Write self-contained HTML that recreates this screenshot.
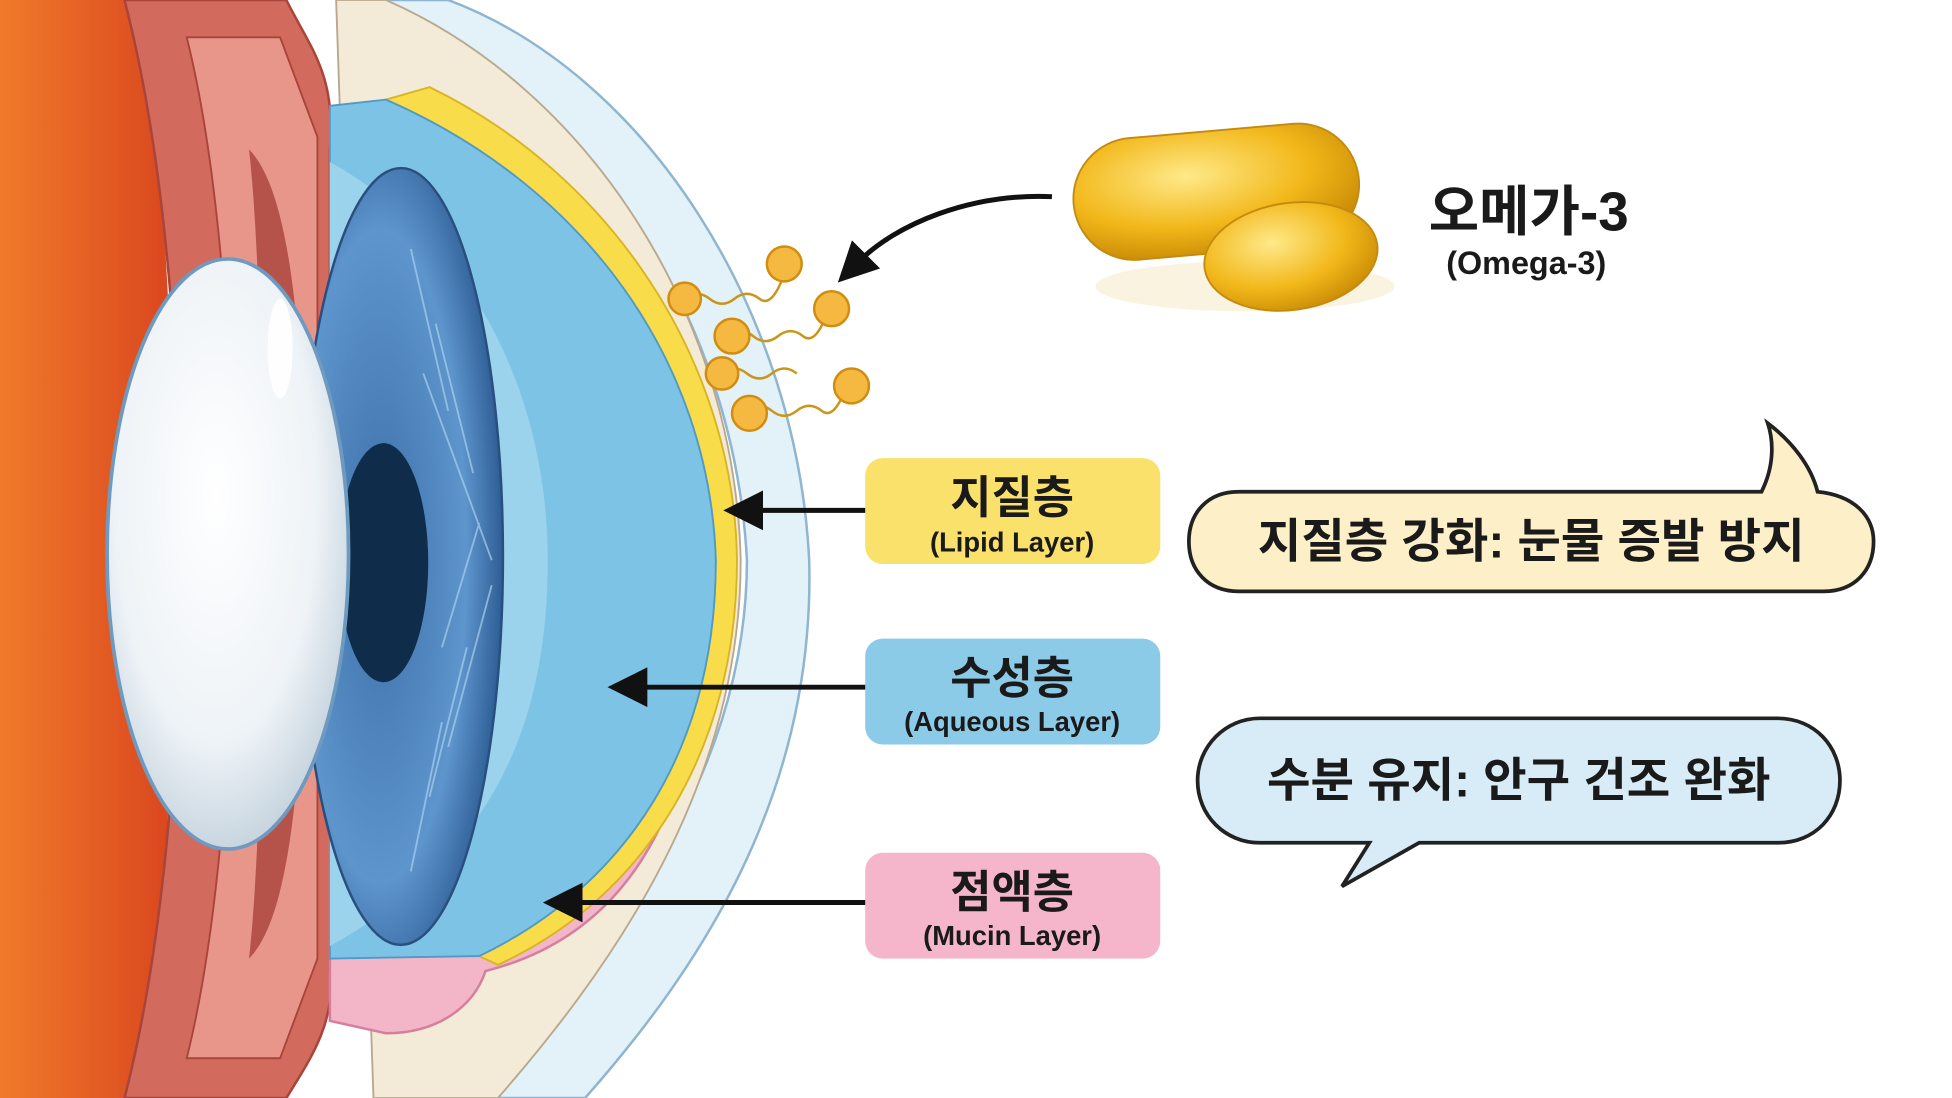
<!DOCTYPE html>
<html><head><meta charset="utf-8"><style>
html,body{margin:0;padding:0;background:#fff;width:1952px;height:1098px;overflow:hidden}
svg{display:block}
text{font-family:"Liberation Sans","Noto Sans CJK KR",sans-serif;font-weight:bold;fill:#1a1a1a}
</style></head><body>
<svg width="1952" height="1098" viewBox="0 0 1568 882" preserveAspectRatio="none" xmlns="http://www.w3.org/2000/svg">
<defs>
<linearGradient id="or" x1="0" x2="1"><stop offset="0" stop-color="#f07a2a"/><stop offset="1" stop-color="#d9461e"/></linearGradient>
<radialGradient id="cap" cx="0.4" cy="0.35" r="0.7"><stop offset="0" stop-color="#ffe98a"/><stop offset="0.6" stop-color="#f2b81a"/><stop offset="1" stop-color="#c98a05"/></radialGradient>
<radialGradient id="iris" cx="0.4" cy="0.5" r="0.6"><stop offset="0" stop-color="#3d6fa8"/><stop offset="0.7" stop-color="#5d95cc"/><stop offset="1" stop-color="#2e5d95"/></radialGradient>
<radialGradient id="lens" cx="0.45" cy="0.4" r="0.6"><stop offset="0" stop-color="#ffffff"/><stop offset="0.7" stop-color="#eef3f7"/><stop offset="1" stop-color="#c9d6e0"/></radialGradient>
<marker id="ah" markerWidth="8" markerHeight="8" refX="2" refY="4" orient="auto" markerUnits="strokeWidth"><path d="M0,0 L8,4 L0,8 z" fill="#111"/></marker>
</defs>
<rect width="1568" height="882" fill="#fff"/>
<!-- outer clear cornea layers -->
<path d="M300,0 L360,0 C520,60 640,250 650,450 C655,640 560,780 470,882 L380,882 C470,780 600,640 600,450 C590,260 480,80 300,0Z" fill="#e3f1f8" stroke="#8fb5d0" stroke-width="2"/>
<path d="M270,0 L310,0 C470,70 590,250 595,450 C595,640 480,790 400,882 L300,882 Z" fill="#f3ead8" stroke="#b9a98c" stroke-width="1.5"/>
<!-- orange -->
<path d="M0,0 L110,0 C150,200 150,700 110,882 L0,882Z" fill="url(#or)"/>
<!-- red band -->
<path d="M100,0 L230,0 C250,40 270,60 265,120 L265,780 C270,820 250,850 230,882 L100,882 C160,650 160,230 100,0Z" fill="#d26a5e" stroke="#a8443a" stroke-width="2"/>
<path d="M150,30 L225,30 L255,110 L255,770 L225,850 L150,850 C200,650 200,230 150,30Z" fill="#e8968a" stroke="#a8443a" stroke-width="1.5"/>
<path d="M200,120 C230,150 245,250 245,440 C245,640 230,740 200,770 C215,640 215,250 200,120Z" fill="#b5534a"/>
<!-- pink mucin bottom -->
<path d="M265,600 L560,560 C540,700 470,760 390,780 C380,810 350,830 310,830 L265,820Z" fill="#f3b6c8" stroke="#d67f9c" stroke-width="2"/>
<!-- yellow lipid -->
<path d="M310,80 L345,70 C490,140 590,290 592,450 C592,600 520,720 400,775 L385,768 C505,710 575,600 575,450 C570,290 470,150 310,80Z" fill="#f8dc4a" stroke="#d8b420" stroke-width="1.5"/>
<!-- blue aqueous -->
<path d="M265,85 L310,80 C470,150 570,290 575,450 C575,600 505,710 385,768 L265,770Z" fill="#7cc3e6" stroke="#4f9ac8" stroke-width="1.5"/>
<path d="M265,130 C390,200 440,330 440,450 C440,590 390,690 265,760Z" fill="#9bd2ec"/>
<!-- iris -->
<ellipse cx="322" cy="447" rx="82" ry="312" fill="url(#iris)" stroke="#2a4f7f" stroke-width="2"/>
<g stroke="#a9d0ef" stroke-width="1.5" opacity="0.7">
<line x1="330" y1="200" x2="360" y2="330"/><line x1="350" y1="260" x2="380" y2="380"/><line x1="355" y1="520" x2="385" y2="420"/><line x1="345" y1="640" x2="375" y2="520"/><line x1="330" y1="700" x2="355" y2="580"/><line x1="340" y1="300" x2="395" y2="450"/><line x1="360" y1="600" x2="395" y2="470"/>
</g>
<ellipse cx="308" cy="452" rx="36" ry="96" fill="#0f2d4a"/>
<!-- lens -->
<ellipse cx="183" cy="445" rx="97" ry="237" fill="url(#lens)" stroke="#6f9ac0" stroke-width="3"/>
<ellipse cx="225" cy="280" rx="10" ry="40" fill="#fff" opacity="0.9"/>
<!-- lipid molecules -->
<g stroke="#c9961a" stroke-width="2" fill="none">
<path d="M550,240 q10,-8 20,0 t20,0 t20,0 t20,-20"/>
<path d="M585,270 q10,-8 20,0 t20,0 t20,0 t20,-20"/>
<path d="M580,300 q10,-8 20,0 t20,0 t20,0"/>
<path d="M600,330 q10,-8 20,0 t20,0 t20,0 t20,-20"/>
</g>
<g fill="#f5b841" stroke="#d08e10" stroke-width="2">
<circle cx="550" cy="240" r="13"/><circle cx="630" cy="212" r="14"/>
<circle cx="588" cy="270" r="14"/><circle cx="668" cy="248" r="14"/>
<circle cx="580" cy="300" r="13"/><circle cx="602" cy="332" r="14"/><circle cx="684" cy="310" r="14"/>
</g>
<!-- curved arrow -->
<path d="M845,158 C780,155 720,180 690,210" fill="none" stroke="#111" stroke-width="4" marker-end="url(#ah)"/>
<!-- capsules -->
<ellipse cx="1000" cy="230" rx="120" ry="20" fill="#f2e2b0" opacity="0.4"/>
<rect x="862" y="105" width="230" height="98" rx="49" fill="url(#cap)" stroke="#c48a10" stroke-width="1.5" transform="rotate(-5 977 154)"/>
<ellipse cx="1037" cy="206" rx="70" ry="43" fill="url(#cap)" stroke="#c48a10" stroke-width="1.5" transform="rotate(-8 1037 206)"/>
<text x="1228" y="185" font-size="44" text-anchor="middle">오메가-3</text>
<text x="1226" y="220" font-size="26" text-anchor="middle">(Omega-3)</text>
<!-- label boxes -->
<rect x="695" y="368" width="237" height="85" rx="14" fill="#f9e16b"/>
<text x="813" y="412" font-size="36" text-anchor="middle">지질층</text>
<text x="813" y="443" font-size="22" text-anchor="middle">(Lipid Layer)</text>
<rect x="695" y="513" width="237" height="85" rx="14" fill="#8ccbe8"/>
<text x="813" y="557" font-size="36" text-anchor="middle">수성층</text>
<text x="813" y="587" font-size="22" text-anchor="middle">(Aqueous Layer)</text>
<rect x="695" y="685" width="237" height="85" rx="14" fill="#f5b6cb"/>
<text x="813" y="729" font-size="36" text-anchor="middle">점액층</text>
<text x="813" y="759" font-size="22" text-anchor="middle">(Mucin Layer)</text>
<!-- arrows -->
<g stroke="#111" stroke-width="4" marker-end="url(#ah)">
<line x1="695" y1="410" x2="605" y2="410"/>
<line x1="695" y1="552" x2="512" y2="552"/>
<line x1="695" y1="725" x2="460" y2="725"/>
</g>
<!-- bubble 1 -->
<path d="M995,395 L1415,395 C1425,375 1425,355 1420,340 C1440,355 1455,375 1460,395 C1490,398 1505,415 1505,435 C1505,458 1490,475 1465,475 L995,475 C970,475 955,458 955,435 C955,412 970,395 995,395Z" fill="#fdf0c8" stroke="#222" stroke-width="3"/>
<text x="1230" y="448" font-size="38" text-anchor="middle">지질층 강화: 눈물 증발 방지</text>
<!-- bubble 2 -->
<path d="M1012,577 L1428,577 C1458,577 1478,600 1478,627 C1478,655 1458,677 1428,677 L1140,677 L1078,712 L1100,677 L1012,677 C984,677 962,655 962,627 C962,600 984,577 1012,577Z" fill="#d7ecf7" stroke="#222" stroke-width="3"/>
<text x="1220" y="640" font-size="38" text-anchor="middle">수분 유지: 안구 건조 완화</text>
</svg>
</body></html>
